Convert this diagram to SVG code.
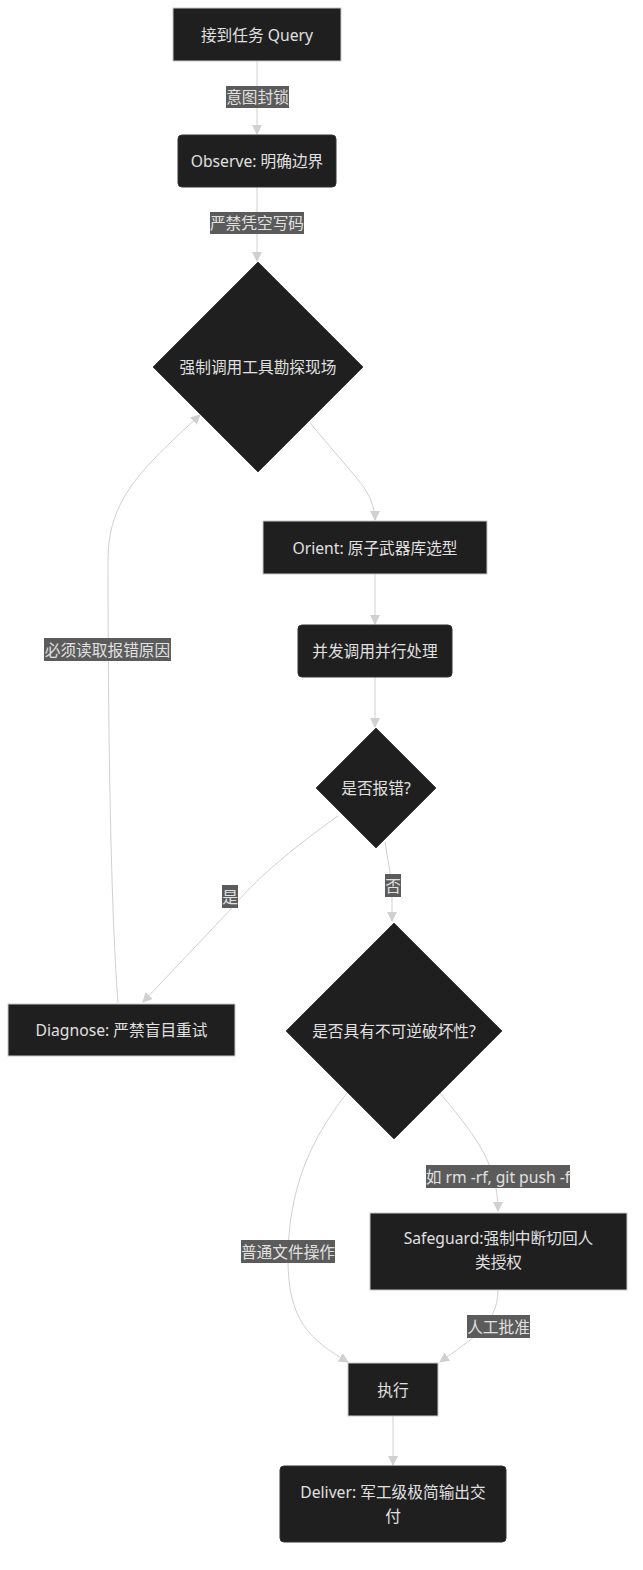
<svg xmlns="http://www.w3.org/2000/svg" width="643" height="1570" viewBox="0 0 643 1570">
<defs>
<marker id="arr" viewBox="0 0 10 10" refX="9" refY="5" markerWidth="10" markerHeight="10" markerUnits="userSpaceOnUse" orient="auto">
<path d="M0,0 L10,5 L0,10 z" fill="#d0d0d0"/>
</marker>
<style>
.bg{fill:#ffffff}
.sq{fill:#1f1f1f;stroke:#c8c8c8;stroke-width:1}
.rd{fill:#1f1f1f;stroke:#333;stroke-width:1}
.dm{fill:#1f1f1f;stroke:#444;stroke-width:1}
.t{font-family:"Noto Sans","Noto Sans CJK SC",sans-serif;font-size:15.7px;fill:#e0e0e0;text-anchor:middle;dominant-baseline:central}
.e{fill:none;stroke:#d0d0d0;stroke-width:1;marker-end:url(#arr)}
.lb{fill:#5b5b5b}
</style>
</defs>
<rect class="bg" x="0" y="0" width="643" height="1570"/>
<g id="connectors">
<path class="e" d="M257,61 L257,134"/>
<path class="e" d="M257,187 L257,261"/>
<path class="e" d="M310,423 L355,476 Q375,498 375,520"/>
<path class="e" d="M375,574 L375,624"/>
<path class="e" d="M375,677 L375,727"/>
<path class="e" d="M338,816 C290,850 255,880 230,910 L143,1002"/>
<path class="e" d="M385,842 L392,885 L392,921"/>
<path class="e" d="M118,1003 C110,900 108,700 108,560 C108,500 140,470 200,415"/>
<path class="e" d="M347,1093 C310,1140 288,1190 288,1260 C288,1320 310,1340 348,1362"/>
<path class="e" d="M440,1093 C470,1130 498,1160 498,1211"/>
<path class="e" d="M498,1290 C498,1325 470,1340 440,1362"/>
<path class="e" d="M393,1416 L393,1465"/>
<g id="labels">
<rect class="lb" x="226" y="86" width="63" height="22"/><text class="t" x="257.5" y="97">意图封锁</text>
<rect class="lb" x="210" y="212" width="94" height="22"/><text class="t" x="257" y="223">严禁凭空写码</text>
<rect class="lb" x="44" y="638" width="127" height="23"/><text class="t" x="107.5" y="649.5">必须读取报错原因</text>
<rect class="lb" x="222" y="885" width="16" height="23"/><text class="t" x="230" y="896.5">是</text>
<rect class="lb" x="385" y="874" width="16" height="23"/><text class="t" x="393" y="885.5">否</text>
<rect class="lb" x="241" y="1240" width="94" height="23"/><text class="t" x="288" y="1251.5">普通文件操作</text>
<rect class="lb" x="426" y="1165" width="144" height="23"/><text class="t" x="498" y="1176.5">如 rm -rf, git push -f</text>
<rect class="lb" x="467" y="1315" width="63" height="23"/><text class="t" x="498.5" y="1326.5">人工批准</text>
</g>
</g>
<g id="n1"><rect class="sq" x="173" y="8" width="168" height="53"/><text class="t" x="257" y="34.5">接到任务 Query</text></g>
<g id="n2"><rect class="rd" x="178" y="135" width="158" height="52" rx="4"/><text class="t" x="257" y="161">Observe: 明确边界</text></g>
<g id="n3"><polygon class="dm" points="258,262 363,367 258,472 153,367"/><text class="t" x="258" y="367">强制调用工具勘探现场</text></g>
<g id="n4"><rect class="sq" x="263" y="521" width="224" height="53"/><text class="t" x="375" y="547.5">Orient: 原子武器库选型</text></g>
<g id="n5"><rect class="rd" x="298" y="625" width="154" height="52" rx="4"/><text class="t" x="375" y="651">并发调用并行处理</text></g>
<g id="n6"><polygon class="dm" points="376,728 436,788 376,848 316,788"/><text class="t" x="376" y="788">是否报错?</text></g>
<g id="n7"><rect class="sq" x="8" y="1004" width="227" height="52"/><text class="t" x="121.5" y="1030">Diagnose: 严禁盲目重试</text></g>
<g id="n8"><polygon class="dm" points="394,923 502,1031 394,1139 286,1031"/><text class="t" x="394" y="1031">是否具有不可逆破坏性?</text></g>
<g id="n9"><rect class="sq" x="370" y="1213" width="257" height="77"/><text class="t" x="498.5" y="1238">Safeguard:强制中断切回人</text><text class="t" x="498.5" y="1262">类授权</text></g>
<g id="n10"><rect class="sq" x="348" y="1363" width="90" height="53"/><text class="t" x="393" y="1389.5">执行</text></g>
<g id="n11"><rect class="rd" x="280" y="1466" width="226" height="76" rx="4"/><text class="t" x="393" y="1492">Deliver: 军工级极简输出交</text><text class="t" x="393" y="1516">付</text></g>
</svg>
